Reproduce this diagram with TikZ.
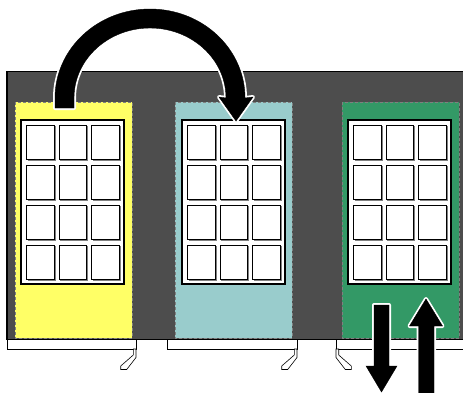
\documentclass[tikz,border=0pt]{standalone}
\definecolor{darkbg}{HTML}{4D4D4D}
\definecolor{panelY}{HTML}{FFFF66}
\definecolor{panelT}{HTML}{99CCCC}
\definecolor{panelG}{HTML}{339966}
\definecolor{shadowgray}{HTML}{808080}
\tikzset{
  panel/.style={draw=shadowgray, dash pattern=on 3pt off 2pt, line width=0.7pt},
  frame/.style={draw=black, fill=white, line width=1.4pt},
  cell/.style={draw=black, fill=white, line width=0.8pt},
  cellshadow/.style={draw=shadowgray, line width=1pt},
  ledge/.style={draw=black, fill=white, line width=0.7pt},
  hook/.style={draw=black, fill=white, line width=0.6pt, line join=miter},
  bigarrow/.style={preaction={draw=white, line width=4pt, line join=round}, fill=black},
}
\newcommand{\mywindow}[1]{%
  \draw[frame] (#1,120) rectangle ++(103,164);
  \foreach \c in {0,1,2}{
    \foreach \r in {0,1,2,3}{
      \draw[cellshadow] ({#1+5.5+\c*32.5+28.5},{125+\r*40+1}) -- ++(0,34.5) -- ++(-27.5,0);
      \draw[cell] ({#1+5.5+\c*32.5},{125+\r*40}) rectangle ++(27.5,34.5);
    }
  }%
}
\begin{document}
\begin{tikzpicture}[x=1pt,y=-1pt]
\useasboundingbox (0,0) rectangle (463,392);
\clip (0,0) rectangle (463,392);
% dark background wall
\draw[fill=darkbg, draw=black, line width=1.5pt] (7,71.5) rectangle (475,339.5);
% panels
\fill[panelY] (15,102) rectangle (132,338);
\draw[panel] (15,102) rectangle (132,338);
\fill[panelT] (175,102) rectangle (292,338);
\draw[panel] (175,102) rectangle (292,338);
\fill[panelG] (342,102) rectangle (459,338);
\draw[panel] (342,102) rectangle (459,338);
% windows
\mywindow{21}
\mywindow{182}
\mywindow{348}
% ledges
\draw[ledge] (7,339.5) rectangle (136,349);
\draw[ledge] (167,339.5) rectangle (297,349);
\draw[ledge] (336,339.5) rectangle (475,349);
% hooks
\draw[hook] (133.3,349) -- (133.3,355) -- (120.7,366) -- (120.7,369.5) -- (126.7,369.5) -- (136,357.5) -- (136,349) -- cycle;
\draw[hook] (294.3,349) -- (294.3,355) -- (281.7,366) -- (281.7,369.5) -- (287.7,369.5) -- (297,357.5) -- (297,349) -- cycle;
\draw[hook] (338.7,349) -- (338.7,355) -- (351.3,366) -- (351.3,369.5) -- (345.3,369.5) -- (336,357.5) -- (336,349) -- cycle;
% curved arrow
\draw[bigarrow] (55,108) -- (55,98)
  arc[start angle=180, end angle=360, x radius=95, y radius=89]
  -- (253,97) -- (236,121) -- (219,97) -- (226,98)
  arc[start angle=360, end angle=180, x radius=76, y radius=70]
  -- (74,108) -- cycle;
% down arrow
\draw[bigarrow] (374,305) -- (389,305) -- (389,366) -- (397,366) -- (381.5,392) -- (366,366) -- (374,366) -- cycle;
% up arrow
\draw[bigarrow] (418.5,398) -- (418.5,326) -- (409.5,326) -- (426,299) -- (442.5,326) -- (434,326) -- (434,398) -- cycle;
\end{tikzpicture}
\end{document}
